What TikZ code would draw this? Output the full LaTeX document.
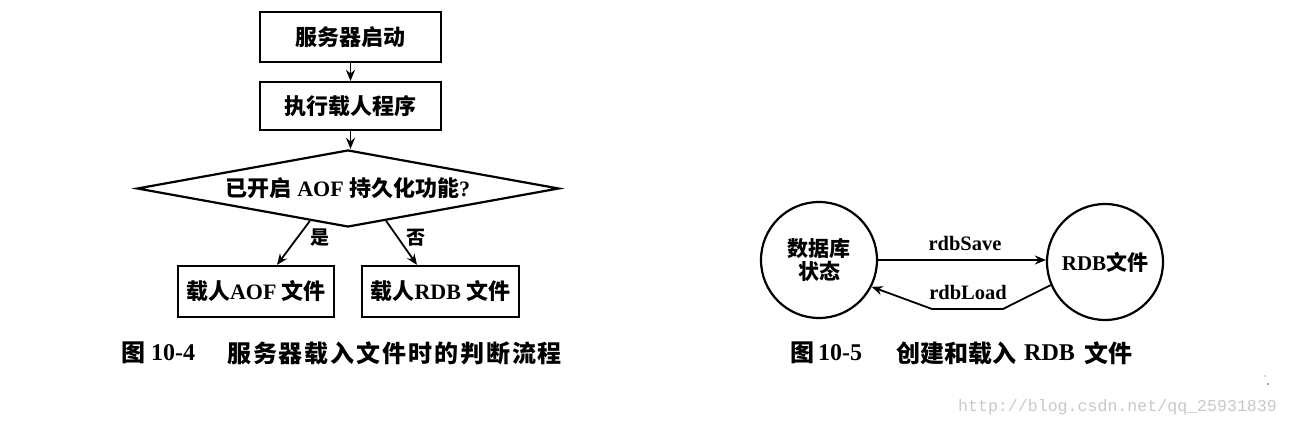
\documentclass[tikz,border=0pt]{standalone}
\usepackage{fontspec}
\setmainfont{Liberation Serif}
\newfontfamily\zh{Noto Sans CJK SC}
\newfontfamily\wmfont{Liberation Mono}
\usetikzlibrary{shapes.geometric,arrows.meta,calc}
\newlength\capcw
\def\capspaced#1{\ifx#1\relax\else\makebox[\capcw]{#1}\expandafter\capspaced\fi}
\definecolor{wmgray}{RGB}{200,200,200}
\begin{document}
\begin{tikzpicture}[x=1pt,y=-1pt,
  box/.style={draw,line width=2.2pt,inner sep=0pt,font=\bfseries\fontsize{22}{24}\selectfont},
  dia/.style={draw,diamond,line width=2.2pt,inner sep=0pt,shape aspect=5.5,
    minimum width=422pt,minimum height=77pt,font=\bfseries\fontsize{22}{24}\selectfont},
  circ/.style={draw,circle,line width=2.2pt,minimum size=116pt,inner sep=0pt,align=center,
    font=\bfseries\fontsize{21}{24}\selectfont},
  lbl/.style={inner sep=0pt,font=\bfseries\fontsize{19}{22}\selectfont},
  arlbl/.style={inner sep=0pt,font=\bfseries\fontsize{20.5}{22}\selectfont},
  captext/.style={inner sep=0pt,anchor=west,font=\bfseries\fontsize{24}{26}\selectfont},
  arr/.style={line width=1.8pt,-{Stealth[length=11pt,width=9pt]}}]
\useasboundingbox (0,0) rectangle (1289,427);

% ---- Figure 10-4 ----
\node[box,minimum width=181pt,minimum height=50pt] (b1) at (350.5,37) {{\zh 服务器启动}};
\node[box,minimum width=181pt,minimum height=48pt] (b2) at (350.5,106) {{\zh 执行载人程序}};
\node[dia] (d) at (348,188.5) {{\zh 已开启} AOF {\zh 持久化功能}?};
\node[box,minimum width=156pt,minimum height=51pt] (aof) at (256,291.5) {{\zh 载人}AOF {\zh 文件}};
\node[box,minimum width=157pt,minimum height=51pt] (rdb) at (440.5,291.5) {{\zh 载人}RDB {\zh 文件}};

\draw[arr] (b1.south) -- (b2.north);
\draw[arr] (b2.south) -- (b2.south |- d.north);
\coordinate (yesS) at ($(d.south)!0.18!(d.west)$);
\coordinate (noS) at ($(d.south)!0.18!(d.east)$);
\draw[arr] (yesS) -- ($(aof.north)+(21,0)$);
\draw[arr] (noS) -- ($(rdb.north)+(-23.5,0)$);
\node[lbl] (yes) at (320,238) {{\zh 是}};
\node[lbl] (no) at (416,238) {{\zh 否}};

% ---- Figure 10-5 ----
\node[circ] (c1) at (819,260) {{\zh 数据库}\\[-1pt]{\zh 状态}};
\node[circ] (c2) at (1105,262) {RDB{\zh 文件}};
\draw[arr] (c1.east) -- (c1.east -| c2.west);
\node[arlbl] (save) at (965,243) {rdbSave};
\coordinate (l1) at (1003,309);
\coordinate (l2) at (932,309);
\draw[arr] (c2.203) -- (l1) -- (l2) -- (c1.-27);
\node[arlbl] (load) at (968,292) {rdbLoad};

% ---- Captions ----
\setlength\capcw{25.9pt}
\node[captext] (cap1a) at (121,353) {{\zh 图}};
\node[captext] (cap1b) at (151,353) {10-4};
\node[captext] (cap1c) at (226,353) {\zh\capspaced 服务器载入文件时的判断流程\relax};
\setlength\capcw{24pt}
\node[captext] (cap2a) at (790,353) {{\zh 图}};
\node[captext] (cap2b) at (818,353) {10-5};
\node[captext] (cap2c) at (896,353) {\zh\capspaced 创建和载入\relax};
\node[captext] (cap2d) at (1024,353) {RDB};
\node[captext] (cap2e) at (1084,353) {\zh\capspaced 文件\relax};

% ---- watermark ----
\fill[black!70] (1265,376) circle (0.7pt) (1268,384) circle (0.8pt);
\node[inner sep=0pt,text=wmgray,font=\wmfont\fontsize{16.6}{18}\selectfont] (wm) at (1117.5,407) {http://blog.csdn.net/qq\_25931839};
\end{tikzpicture}
\end{document}
